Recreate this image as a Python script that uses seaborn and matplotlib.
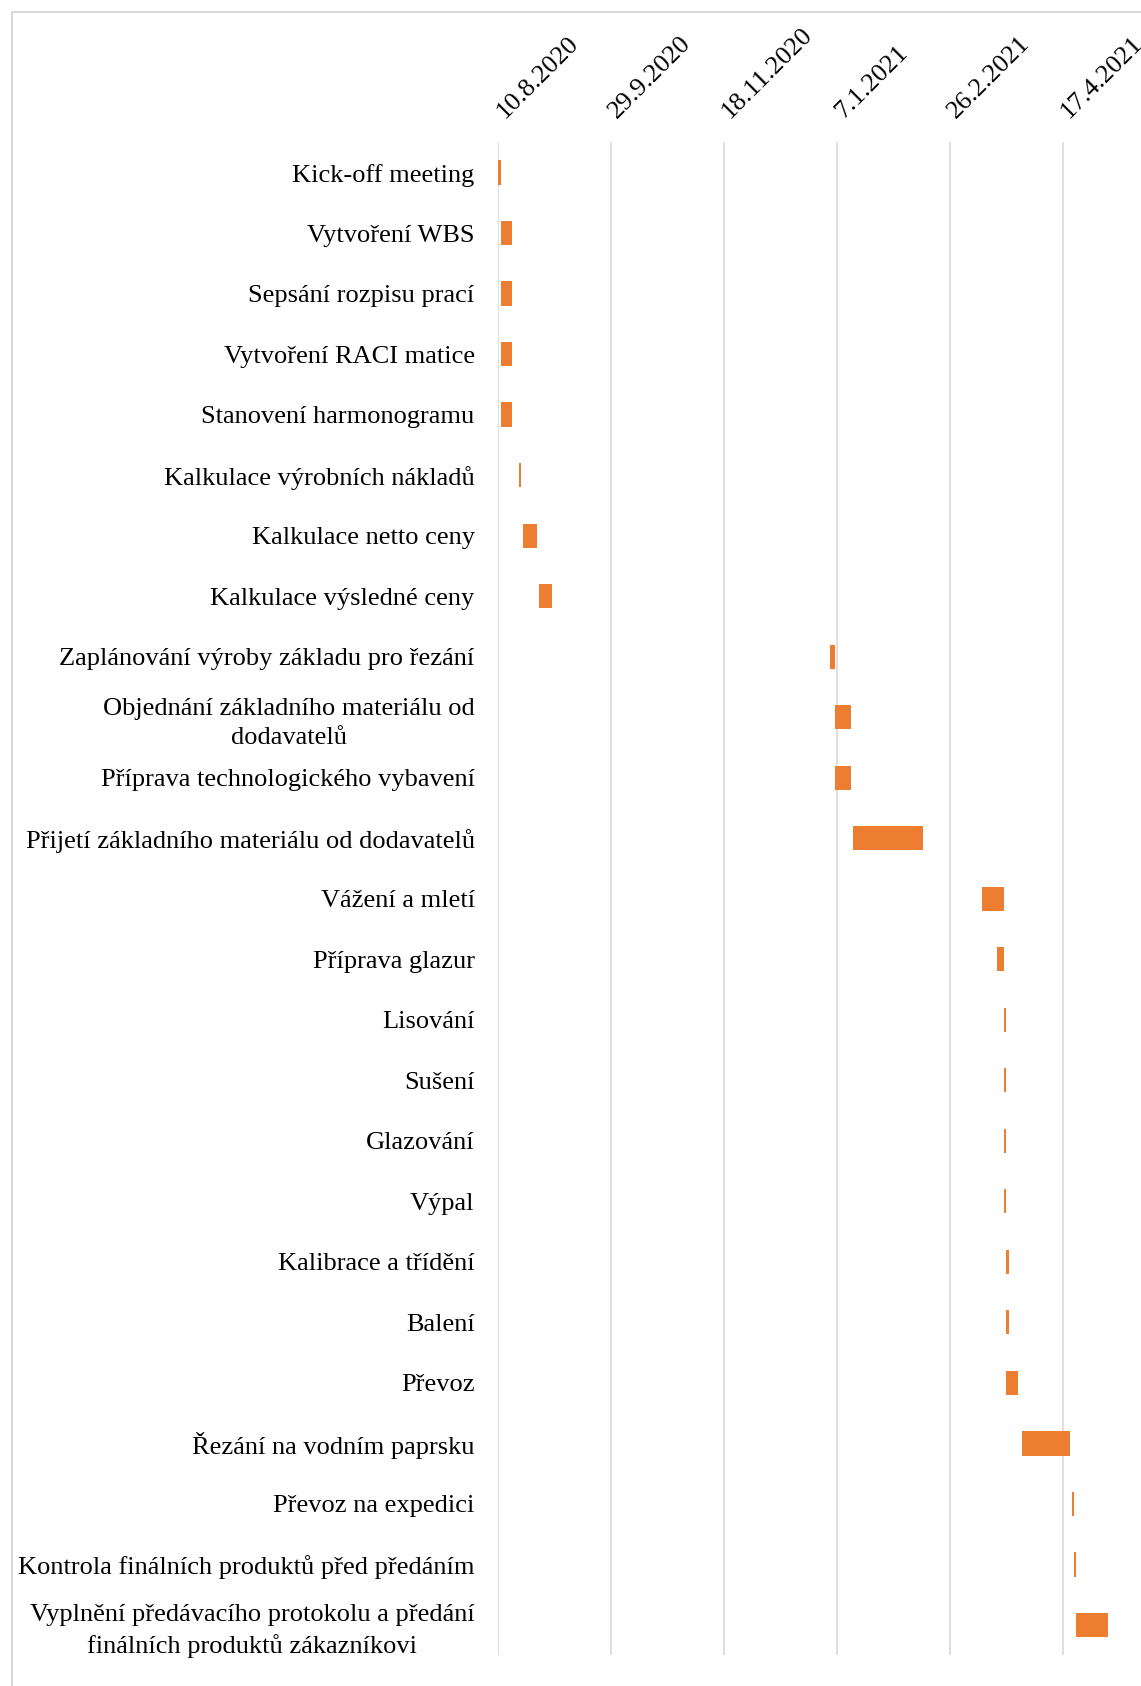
import pandas as pd
import numpy as np
import matplotlib
matplotlib.use("Agg")
import matplotlib.pyplot as plt
from matplotlib.patches import Rectangle
from matplotlib.transforms import ScaledTranslation
import seaborn as sns

# Project schedule (Gantt) data
tasks = [
    "Kick-off meeting",
    "Vytvoření WBS",
    "Sepsání rozpisu prací",
    "Vytvoření RACI matice",
    "Stanovení harmonogramu",
    "Kalkulace výrobních nákladů",
    "Kalkulace netto ceny",
    "Kalkulace výsledné ceny",
    "Zaplánování výroby základu pro řezání",
    "Objednání základního materiálu od\ndodavatelů",
    "Příprava technologického vybavení",
    "Přijetí základního materiálu od dodavatelů",
    "Vážení a mletí",
    "Příprava glazur",
    "Lisování",
    "Sušení",
    "Glazování",
    "Výpal",
    "Kalibrace a třídění",
    "Balení",
    "Převoz",
    "Řezání na vodním paprsku",
    "Převoz na expedici",
    "Kontrola finálních produktů před předáním",
    "Vyplnění předávacího protokolu a předání\nfinálních produktů zákazníkovi",
]

start_dates = [
    "2020-08-10", "2020-08-11", "2020-08-11", "2020-08-11", "2020-08-11",
    "2020-08-19", "2020-08-21", "2020-08-28", "2021-01-04", "2021-01-06",
    "2021-01-06", "2021-01-14", "2021-03-12", "2021-03-19", "2021-03-22",
    "2021-03-22", "2021-03-22", "2021-03-22", "2021-03-23", "2021-03-23",
    "2021-03-23", "2021-03-30", "2021-04-21", "2021-04-22", "2021-04-23",
]

durations = [1, 5, 5, 5, 5, 1, 6, 6, 2, 7, 7, 31, 10, 3, 1, 1, 1, 1, 1, 1,
             5, 21, 1, 1, 14]

axis_start = "2020-08-10"
tick_step_days = 50
tick_labels = ["10.8.2020", "29.9.2020", "18.11.2020", "7.1.2021",
               "26.2.2021", "17.4.2021"]

origin = pd.Timestamp(axis_start)
df = pd.DataFrame({
    "task": tasks,
    "start": (pd.to_datetime(start_dates) - origin).days,
    "days": durations,
})

sns.set_theme(style="white")
plt.rcParams["font.family"] = ["Liberation Serif", "DejaVu Serif"]

W, H = 1141, 1686
fig = plt.figure(figsize=(W / 100, H / 100), dpi=100)

ax_left = 498.3 / W
ax_top = 1 - 142.25 / H
ax_bottom = 1 - 1655.25 / H
ax = fig.add_axes([ax_left, ax_bottom, 1 - ax_left, ax_top - ax_bottom])

sns.barplot(data=df, x="days", y="task", orient="y",
            left=df["start"].to_numpy(), color="#ED7D31", saturation=1,
            width=0.4, errorbar=None, edgecolor="none", ax=ax)

ax.set_xlim(0, (W - 498.3) / 2.258)
ax.set_ylim(len(tasks) - 0.5, -0.5)

ticks = np.arange(len(tick_labels)) * tick_step_days
ax.set_xticks(ticks)
ax.set_xticklabels(tick_labels)
ax.xaxis.tick_top()
ax.tick_params(axis="x", length=0, pad=18, labelsize=19, colors="black")
ax.tick_params(axis="y", length=0, pad=17, labelsize=19, colors="black")
nudge = ScaledTranslation(0.06, -0.02, fig.dpi_scale_trans)
for lab in ax.get_xticklabels():
    lab.set_rotation(45)
    lab.set_ha("left")
    lab.set_va("baseline")
    lab.set_rotation_mode("anchor")
    lab.set_transform(lab.get_transform() + nudge)
for lab in ax.get_yticklabels():
    lab.set_multialignment("center")
    lab.set_linespacing(1.42)

ax.set_xlabel("")
ax.set_ylabel("")
ax.grid(axis="x", color="#d9d9d9", linewidth=1.2)
ax.grid(axis="y", visible=False)
ax.set_axisbelow(True)
for s in ax.spines.values():
    s.set_visible(False)

# Light chart-area frame
fig.add_artist(Rectangle((12 / W, -0.1), 1.2, (1 - 12 / H) + 0.1,
                         transform=fig.transFigure, fill=False,
                         edgecolor="#d9d9d9", linewidth=1.5))

fig.savefig("out.png", dpi=100)
